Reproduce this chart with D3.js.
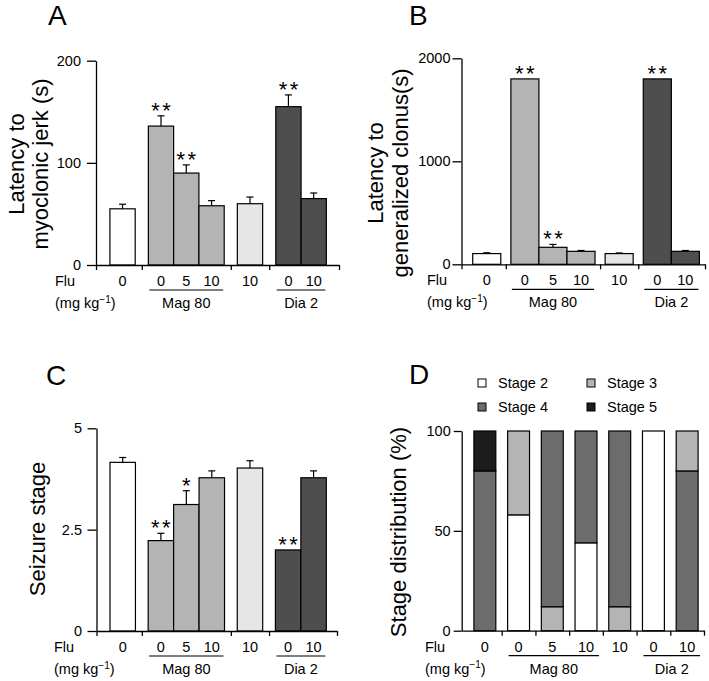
<!DOCTYPE html>
<html><head><meta charset="utf-8">
<script src="https://cdn.jsdelivr.net/npm/d3@7"></script>
<style>
html,body{margin:0;padding:0;background:#fff;}
svg{display:block;font-family:"Liberation Sans",Arial,Helvetica,sans-serif;}
</style></head><body>
<svg id="chart" width="709" height="681"></svg>
<script>
// ---------- data ----------
const treatments = ["Vehicle","Mag 80 + Flu 0","Mag 80 + Flu 5","Mag 80 + Flu 10","Flu 10","Dia 2 + Flu 0","Dia 2 + Flu 10"];
const fluDoseLabels = ["0","0","5","10","10","0","10"];
const groupOfTreatment = [0,1,1,1,2,3,3];
const groupLabels = ["","Mag 80","","Dia 2"];
const rowLabel1 = "Flu";

const jerkLatency = [55,136,90,58,60,155,65];
const jerkSem = [4.5,10,8,5,6.5,11.5,5.5];
const jerkSig = ["","**","**","","","**",""];
const jerkTicks = [0,100,200];

const clonusLatency = [104,1800,165,126,104,1800,126];
const clonusSem = [8,0,28,8,6,0,8];
const clonusSig = ["","**","**","","","**",""];
const clonusTicks = [0,1000,2000];

const seizureStage = [4.16,2.23,3.12,3.78,4.02,2.0,3.78];
const seizureSem = [0.12,0.18,0.34,0.17,0.18,0,0.17];
const seizureSig = ["","**","*","","","**",""];
const seizureTicks = [0,2.5,5];

const stageNames = ["Stage 2","Stage 3","Stage 4","Stage 5"];
const stage2Pct = [0,58,0,44,0,100,0];
const stage3Pct = [0,42,12,0,12,0,20];
const stage4Pct = [80,0,88,56,88,0,80];
const stage5Pct = [20,0,0,0,0,0,0];
const stackOrder = [[2,3],[0,1],[1,2],[0,2],[1,2],[0],[2,1]]; // stage indices, bottom to top
const distTicks = [0,50,100];

// ---------- styles ----------
const barFills = ["#ffffff","#b4b4b4","#b4b4b4","#b4b4b4","#e6e6e6","#4e4e4e","#4e4e4e"];
const stageFills = ["#ffffff","#b4b4b4","#6c6c6c","#1c1c1c"];
const FONT_TICK = 14.5, FONT_YLAB = 22, FONT_PANEL = 28;

const svg = d3.select("#chart");

function panelLetter(letter, x, y){
  svg.append("text").attr("x",x).attr("y",y).attr("font-size",FONT_PANEL).text(letter);
}
function yLabel(lines, baselines, cy){
  lines.forEach((t,i)=>{
    svg.append("text").attr("transform",`translate(${baselines[i]},${cy}) rotate(-90)`)
      .attr("text-anchor","middle").attr("font-size",FONT_YLAB).text(t);
  });
}
function styleAxis(g){
  g.selectAll("path,line").attr("stroke","#000").attr("stroke-width",1.3);
  g.selectAll("text").attr("font-size",FONT_TICK).attr("fill","#000")
   .attr("font-family",'"Liberation Sans",Arial,sans-serif');
}
function yAxis(y, x0, ticks, pad, size){
  const g = svg.append("g").attr("transform",`translate(${x0},0)`)
    .call(d3.axisLeft(y).tickValues(ticks).tickSize(size).tickPadding(pad).tickSizeOuter(0).tickFormat(d=>String(d)));
  styleAxis(g);
}
function unitsLabel(g, x, yy){
  const t = g.append("text").attr("x",x).attr("y",yy).attr("font-size",FONT_TICK);
  t.append("tspan").text("(mg kg");
  t.append("tspan").attr("font-size",10).attr("dy",-5.5).text("−1");
  t.append("tspan").attr("dy",5.5).text(")");
}
function categoryRows(centers, groupSpans, y0, labelX){
  const g = svg.append("g");
  const r1 = y0 + 21, r2 = y0 + 43;
  g.append("text").attr("x",labelX).attr("y",r1).attr("font-size",FONT_TICK).text(rowLabel1);
  fluDoseLabels.forEach((d,i)=>{
    g.append("text").attr("x",centers[i]).attr("y",r1).attr("text-anchor","middle").attr("font-size",FONT_TICK).text(d);
  });
  unitsLabel(g, labelX, r2);
  groupLabels.forEach((lab,gi)=>{
    if(!lab) return;
    const s = groupSpans[gi];
    g.append("line").attr("x1",s[0]).attr("x2",s[1]).attr("y1",r1+4).attr("y2",r1+4)
      .attr("stroke","#000").attr("stroke-width",1.2);
    g.append("text").attr("x",(s[0]+s[1])/2).attr("y",r2).attr("text-anchor","middle")
      .attr("font-size",FONT_TICK).text(lab);
  });
}

function groupedBarPanel(cfg){
  const n = treatments.length;
  // layout in bar units
  let u = cfg.padL; const starts = [], bounds = [0];
  for(let i=0;i<n;i++){
    if(i>0 && groupOfTreatment[i]!==groupOfTreatment[i-1]){ bounds.push(u + cfg.gap/2); u += cfg.gap; }
    starts.push(u); u += 1;
  }
  const total = u + cfg.padR; bounds.push(total);
  const x = d3.scaleLinear().domain([0,total]).range([cfg.x0,cfg.x1]);
  const y = d3.scaleLinear().domain([0,cfg.max]).range([cfg.y0,cfg.yTop]);

  // bars
  svg.append("g").selectAll("rect").data(cfg.values).join("rect")
    .attr("x",(d,i)=>x(starts[i])).attr("width",(d,i)=>x(starts[i]+1)-x(starts[i]))
    .attr("y",d=>y(d)).attr("height",d=>y(0)-y(d))
    .attr("fill",(d,i)=>barFills[i]).attr("stroke","#000").attr("stroke-width",1.2);

  // error bars
  const eg = svg.append("g").attr("stroke","#000").attr("stroke-width",1.2);
  cfg.values.forEach((v,i)=>{
    const s = cfg.sem[i]; if(!s) return;
    const cx = x(starts[i]+0.5);
    eg.append("line").attr("x1",cx).attr("x2",cx).attr("y1",y(v)).attr("y2",y(v+s));
    eg.append("line").attr("x1",cx-3.5).attr("x2",cx+3.5).attr("y1",y(v+s)).attr("y2",y(v+s));
  });

  // significance
  cfg.values.forEach((v,i)=>{
    const sig = cfg.sig[i]; if(!sig) return;
    const cx = x(starts[i]+0.5), by = y(v+cfg.sem[i]) + 2;
    sig.split("").forEach((ch,k)=>{
      svg.append("text").attr("x",cx + (k-(sig.length-1)/2)*11).attr("y",by)
        .attr("text-anchor","middle").attr("font-size",22).text(ch);
    });
  });

  // axes
  yAxis(y, cfg.x0, cfg.ticks, cfg.tickPad, 9);
  const gx = svg.append("g").attr("transform",`translate(0,${cfg.y0})`)
    .call(d3.axisBottom(x).tickValues(bounds).tickSize(5).tickSizeOuter(0).tickFormat(""));
  styleAxis(gx);

  const centers = starts.map(s=>x(s+0.5));
  const spans = groupLabels.map((lab,gi)=>{
    const idx = d3.range(n).filter(i=>groupOfTreatment[i]===gi);
    return [x(starts[idx[0]])+1, x(starts[idx[idx.length-1]]+1)-1];
  });
  categoryRows(centers, spans, cfg.y0, cfg.labelX);
}

// ---------- Panel A ----------
panelLetter("A", 48, 25);
yLabel(["Latency to","myoclonic jerk (s)"], [23.5,47.5], 164);
groupedBarPanel({x0:96,x1:339,y0:265,yTop:60.7,max:200,padL:0.55,padR:0.5,gap:0.52,
  values:jerkLatency,sem:jerkSem,sig:jerkSig,ticks:jerkTicks,tickPad:6,labelX:55});

// ---------- Panel B ----------
panelLetter("B", 409, 25);
yLabel(["Latency to","generalized clonus(s)"], [382.5,407.5], 173);
groupedBarPanel({x0:461.5,x1:705,y0:264.3,yTop:58.3,max:2000,padL:0.4,padR:0.2,gap:0.36,
  values:clonusLatency,sem:clonusSem,sig:clonusSig,ticks:clonusTicks,tickPad:2,labelX:427});

// ---------- Panel C ----------
panelLetter("C", 46, 385);
yLabel(["Seizure stage"], [45], 529);
groupedBarPanel({x0:96.5,x1:337,y0:631,yTop:428.3,max:5,padL:0.53,padR:0.42,gap:0.5,
  values:seizureStage,sem:seizureSem,sig:seizureSig,ticks:seizureTicks,tickPad:5.5,labelX:54});

// ---------- Panel D ----------
(function(){
  const x0 = 461.7, y0 = 630.7, yTop = 431;
  panelLetter("D", 409, 384);
  yLabel(["Stage distribution (%)"], [406], 532);
  const x = d3.scaleBand().domain(d3.range(treatments.length)).range([468,704]).paddingInner(0.35).paddingOuter(0.175);
  const y = d3.scaleLinear().domain([0,100]).range([y0,yTop]);
  const pcts = [stage2Pct,stage3Pct,stage4Pct,stage5Pct];
  const segs = [];
  stackOrder.forEach((order,i)=>{
    let base = 0;
    order.forEach(si=>{ const v = pcts[si][i]; segs.push({i,si,y0:base,y1:base+v}); base += v; });
  });
  svg.append("g").selectAll("rect").data(segs).join("rect")
    .attr("x",d=>x(d.i)).attr("width",x.bandwidth())
    .attr("y",d=>y(d.y1)).attr("height",d=>y(d.y0)-y(d.y1))
    .attr("fill",d=>stageFills[d.si]).attr("stroke","#000").attr("stroke-width",1.2);

  yAxis(y, x0, distTicks, 3, 8);
  const step = x.step();
  const bounds = d3.range(1,treatments.length).map(k=>x(k) - x.paddingInner()*step/2).concat([704]);
  const xl = d3.scaleLinear().domain([x0,704]).range([x0,704]);
  const gx = svg.append("g").attr("transform",`translate(0,${y0})`)
    .call(d3.axisBottom(xl).tickValues(bounds).tickSize(5).tickSizeOuter(0).tickFormat(""));
  styleAxis(gx);

  const centers = d3.range(treatments.length).map(i=>x(i)+x.bandwidth()/2);
  const spans = groupLabels.map((lab,gi)=>{
    const idx = d3.range(treatments.length).filter(i=>groupOfTreatment[i]===gi);
    return [x(idx[0])+1, x(idx[idx.length-1])+x.bandwidth()+2];
  });
  categoryRows(centers, spans, y0, 425);

  // legend
  const lg = svg.append("g");
  const legendPos = [[478,383],[587,383],[478,407],[587,407]];
  stageNames.forEach((nm,si)=>{
    const [lx,ly] = legendPos[si];
    lg.append("rect").attr("x",lx).attr("y",ly-4).attr("width",8).attr("height",8)
      .attr("fill",stageFills[si]).attr("stroke","#000").attr("stroke-width",1);
    lg.append("text").attr("x",lx+20).attr("y",ly+5).attr("font-size",FONT_TICK).text(nm);
  });
})();
</script>
</body></html>
